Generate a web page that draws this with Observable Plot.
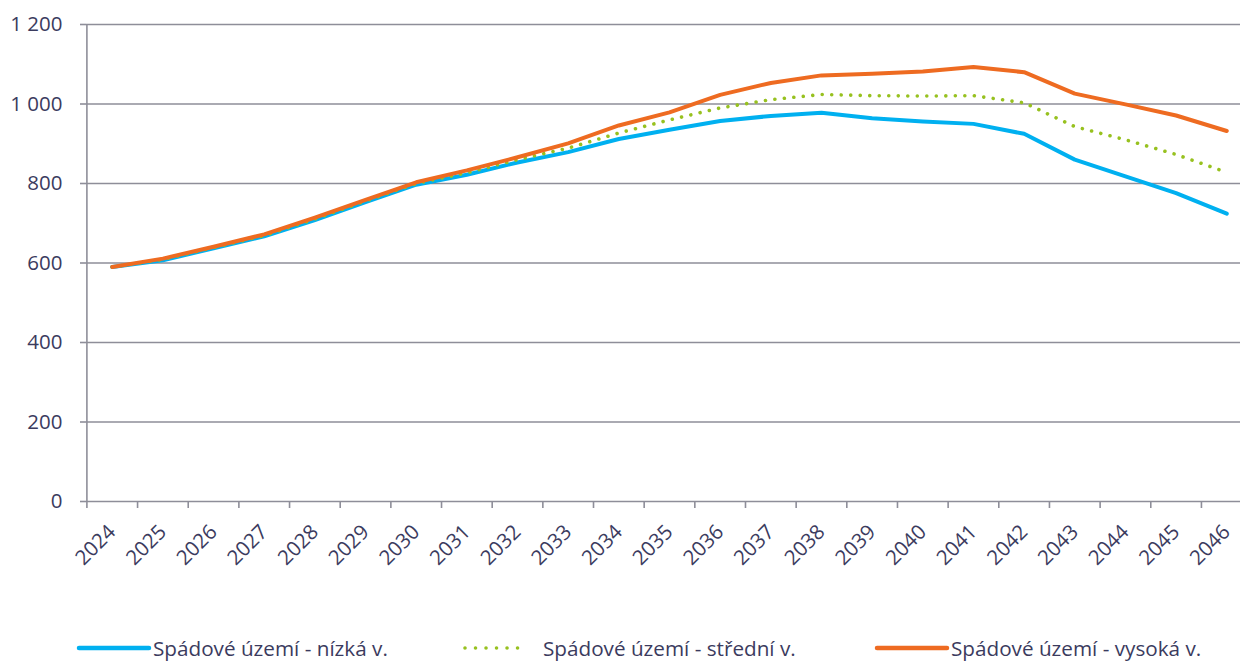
<!DOCTYPE html>
<html><head><meta charset="utf-8">
<script src="https://cdn.jsdelivr.net/npm/d3@7"></script>
<script src="https://cdn.jsdelivr.net/npm/@observablehq/plot@0.6"></script>
<style>
html,body{margin:0;padding:0;background:#fff;}
#wrap{width:1240px;height:662px;overflow:hidden;position:relative;font-family:"Open Sans",sans-serif;color:#3b3b5e;}
#chart svg{display:block;}
#legend{position:absolute;left:0;top:637px;width:1240px;height:22px;font-size:20.7px;line-height:22px;white-space:nowrap;}
.item{position:absolute;top:0;display:flex;align-items:center;height:22px;}
.item svg{display:block;}
</style></head><body>
<div id="wrap"><div id="chart"></div><div id="legend"></div></div>
<script>
const years = ["2024","2025","2026","2027","2028","2029","2030","2031","2032","2033","2034","2035","2036","2037","2038","2039","2040","2041","2042","2043","2044","2045","2046"];
const low  = [590,607,637,667,708,753,797,822,853,879,912,935,957,970,978,964,956,950,925,860,818,776,724];
const mid  = [590,609,639,669,711,756,800,827,860,889,927,960,990,1011,1024,1021,1020,1021,1003,943,910,873,828];
const high = [590,611,641,672,714,759,803,833,866,901,946,979,1023,1053,1072,1076,1082,1093,1080,1026,999,971,932];
const seriesNames = ["Spádové území - nízká v.","Spádové území - střední v.","Spádové území - vysoká v."];
const colors = ["#00b0f0","#97c11f","#ee6b21"];
const yTicks = [0,200,400,600,800,1000,1200];

const gridColor = "#8e8e99";
const textColor = "#3b3b5e";
const xRange = [86.4, 1251.6];
const step = (xRange[1]-xRange[0]) / years.length;
const H = 620;
const fmt = d => d >= 1000 ? d3.format(",")(d).replace(/,/g, "\u00a0") : String(d);
const rowsOf = vals => years.map((y,i) => ({year: y, v: vals[i]}));

const chart = Plot.plot({
  width: 1240, height: H,
  marginLeft: 86, marginRight: 0, marginTop: 24, marginBottom: H - 501,
  x: {type: "point", domain: years, range: xRange, padding: 0.5, round: false},
  y: {domain: [0, 1200]},
  style: {fontFamily: "'Open Sans', sans-serif", fontSize: "20.5px", color: textColor, background: "white"},
  marks: [
    Plot.ruleY(yTicks, {stroke: gridColor, strokeWidth: 1.6}),
    Plot.ruleX([years[0]], {dx: -step/2, stroke: gridColor, strokeWidth: 1.6}),
    Plot.axisY({ticks: yTicks, tickSize: 6, tickPadding: 18, tickFormat: fmt, stroke: gridColor, strokeWidth: 1.6, fill: textColor, label: null}),
    Plot.axisX({tickSize: 7, tickFormat: () => "", dx: -step/2, stroke: gridColor, strokeWidth: 1.6, label: null}),
    Plot.axisX({tickSize: 0, tickPadding: 27, tickRotate: -45, fill: textColor, label: null}),
    Plot.line(rowsOf(low), {x: "year", y: "v", stroke: colors[0], strokeWidth: 4, strokeLinecap: "round", strokeLinejoin: "round"}),
    Plot.line(rowsOf(mid), {x: "year", y: "v", stroke: colors[1], strokeWidth: 3.6, strokeDasharray: "0.01 9.5", strokeLinecap: "round", strokeLinejoin: "round"}),
    Plot.line(rowsOf(high), {x: "year", y: "v", stroke: colors[2], strokeWidth: 4, strokeLinecap: "round", strokeLinejoin: "round"})
  ]
});
document.getElementById("chart").appendChild(chart);

const legend = document.getElementById("legend");
const swatchLeft = [76, 462, 874];
const swatchW = [72, 64, 72];
const textLeft = [153, 543, 951];
seriesNames.forEach((name, i) => {
  const item = document.createElement("div");
  item.className = "item";
  item.style.left = swatchLeft[i] + "px";
  const w = swatchW[i];
  const dash = i === 1 ? 'stroke-dasharray="0.01 10.5"' : "";
  const sw = i === 1 ? 3.6 : 4.5;
  const gap = textLeft[i] - swatchLeft[i] - (w + 4);
  item.innerHTML = `<svg width="${w+4}" height="12"><line x1="3" y1="6" x2="${w+1}" y2="6" stroke="${colors[i]}" stroke-width="${sw}" stroke-linecap="round" ${dash}/></svg><span style="margin-left:${gap}px">${name}</span>`;
  legend.appendChild(item);
});
</script>
</body></html>
